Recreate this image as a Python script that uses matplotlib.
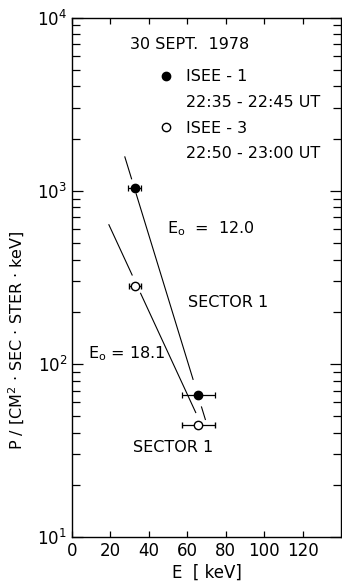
import numpy as np
import matplotlib
matplotlib.use("Agg")
import matplotlib.pyplot as plt
from matplotlib.lines import Line2D

plt.rcParams['font.family'] = ['DejaVu Sans']
plt.rcParams['mathtext.default'] = 'regular'

# ISEE-1 (filled) and ISEE-3 (open) points, 30 Sept 1978
e_isee1 = [32.7, 65.6]
p_isee1 = [1040, 66]
xerr_isee1 = [3.3, 8.6]

e_isee3 = [32.7, 65.6]
p_isee3 = [280, 44.4]
xerr_isee3 = [3.0, 8.6]

# exponential fits P = A * exp(-E / E0)
e0_isee1 = 12.0
a_isee1 = 15500
e0_isee3 = 18.1
a_isee3 = 1836
# drawn pieces of the fit lines (gaps around the points)
fit_isee1_pieces = [(27.5, 31.0), (33.4, 63.0), (67.4, 69.4)]
fit_isee3_pieces = [(19.2, 31.3), (35.7, 64.4)]

xticks = [0, 20, 40, 60, 80, 100, 120]

fig = plt.figure(figsize=(3.42, 5.85), dpi=100)
ax = fig.add_axes([72/342, 1-537/585, 269/342, (537-17.5)/585])

for lo, hi in fit_isee1_pieces:
    e = np.linspace(lo, hi, 20)
    ax.plot(e, a_isee1*np.exp(-e/e0_isee1), color='k', lw=0.8)
for lo, hi in fit_isee3_pieces:
    e = np.linspace(lo, hi, 20)
    ax.plot(e, a_isee3*np.exp(-e/e0_isee3), color='k', lw=0.8)

ax.errorbar(e_isee1, p_isee1, xerr=xerr_isee1, fmt='o', color='k', ms=6,
            capsize=2.5, elinewidth=0.9, capthick=0.9)
ax.errorbar(e_isee3, p_isee3, xerr=xerr_isee3, fmt='o', color='k', mfc='white',
            mec='k', mew=1.0, ms=6, capsize=2.5, elinewidth=0.9, capthick=0.9)

ax.set_yscale('log')
ax.set_xlim(0, 140)
ax.set_ylim(10, 1e4)
ax.set_xticks(xticks)

ax.tick_params(which='both', direction='in', top=True, right=True, labelsize=12)
ax.tick_params(axis='y', which='major', length=8, width=0.9)
ax.tick_params(axis='y', which='minor', length=5.5, width=0.9)
ax.tick_params(axis='x', which='major', length=4, width=0.9)
for s in ax.spines.values():
    s.set_linewidth(1.0)

ax.set_xlabel('E  [ keV]', fontsize=12, labelpad=3)
fig.text(0.05, 1-340/585, 'P / [CM$^{2}$ · SEC · STER · keV]', rotation=90,
         fontsize=11.5, ha='center', va='center')

ax.text(30.1, 6590, '30 SEPT.  1978', fontsize=11.5)
ax.text(49.2, 569, 'E$_{o}$  =  12.0', fontsize=11.5)
ax.text(60.4, 214, 'SECTOR 1', fontsize=11.5)
ax.text(8.5, 108, 'E$_{o}$ = 18.1', fontsize=11.5)
ax.text(31.5, 30.9, 'SECTOR 1', fontsize=11.5)

handles = [Line2D([], [], ls='none', marker='o', color='k', ms=6),
           Line2D([], [], ls='none'),
           Line2D([], [], ls='none', marker='o', mfc='white', mec='k', mew=1.0, ms=6),
           Line2D([], [], ls='none')]
labels = ['ISEE - 1', '22:35 - 22:45 UT', 'ISEE - 3', '22:50 - 23:00 UT']
ax.legend(handles, labels, loc='upper left', bbox_to_anchor=(0.3185, 0.900),
          frameon=False, fontsize=11.5, handlelength=1.0, handletextpad=0.75,
          borderpad=0, borderaxespad=0, labelspacing=0.66)

fig.savefig('out.png', dpi=100)
